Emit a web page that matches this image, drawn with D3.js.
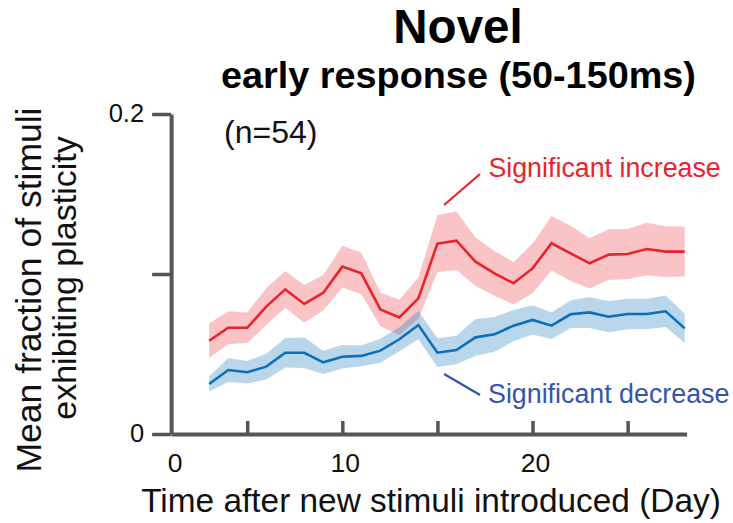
<!DOCTYPE html>
<html>
<head>
<meta charset="utf-8">
<script src="https://cdn.jsdelivr.net/npm/d3@7"></script>
<style>
  html, body { margin: 0; padding: 0; background: #fff; }
  svg { display: block; font-family: "Liberation Sans", Arial, Helvetica, sans-serif; }
</style>
</head>
<body>
<svg id="chart" width="733" height="523"></svg>
<script>
// Days since new stimuli were introduced
const days = [3, 4, 5, 6, 7, 8, 9, 10, 11, 12, 13, 14, 15, 16, 17, 18, 19, 20, 21, 22, 23, 24, 25, 26, 27, 28];

// Mean fraction of stimuli with a significant increase, and its SEM
const increaseMean = [0.0583, 0.0664, 0.0664, 0.0796, 0.0904, 0.0813, 0.0883, 0.1046, 0.1004, 0.0779, 0.0729, 0.0848, 0.1190,
                      0.1208, 0.1077, 0.1004, 0.0942, 0.1035, 0.1192, 0.1129, 0.1067, 0.1121, 0.1125, 0.1156, 0.1140, 0.1140];
const increaseSem  = [0.0108, 0.0103, 0.0096, 0.0115, 0.0115, 0.0118, 0.0110, 0.0130, 0.0130, 0.0106, 0.0110, 0.0130, 0.0178,
                      0.0183, 0.0151, 0.0140, 0.0132, 0.0156, 0.0170, 0.0172, 0.0157, 0.0159, 0.0156, 0.0164, 0.0159, 0.0155];

// Mean fraction of stimuli with a significant decrease, and its SEM
const decreaseMean = [0.0312, 0.0400, 0.0386, 0.0421, 0.0508, 0.0508, 0.0448, 0.0483, 0.0488, 0.0521, 0.0592, 0.0681, 0.0508,
                      0.0525, 0.0604, 0.0623, 0.0677, 0.0713, 0.0677, 0.0748, 0.0760, 0.0733, 0.0750, 0.0750, 0.0767, 0.0660];
const decreaseSem  = [0.0047, 0.0075, 0.0070, 0.0081, 0.0092, 0.0095, 0.0073, 0.0073, 0.0065, 0.0075, 0.0075, 0.0089, 0.0090,
                      0.0089, 0.0115, 0.0109, 0.0098, 0.0091, 0.0083, 0.0086, 0.0097, 0.0097, 0.0096, 0.0096, 0.0099, 0.0092];

// Axis ticks and labels
const xTickValues = [5, 10, 15, 20, 25];
const xTickLabels = [0, 10, 20];
const yTickValues = [0, 0.1, 0.2];
const yTickLabels = ["0", "", "0.2"];

const svg = d3.select("#chart");
const axisColor = "#555555";

// Scales: one step per day, y from 0 to 0.2
const x = d3.scaleLinear().domain([0, 28]).range([152.1, 684.7]);
const y = d3.scaleLinear().domain([0, 0.2]).range([434, 114]);

const xStart = 1, xEnd = 28.1;

const series = [
  { mean: increaseMean, sem: increaseSem, line: "#e8232b", band: "#ef3a44" },
  { mean: decreaseMean, sem: decreaseSem, line: "#0c6fb8", band: "#1877bd" }
];

const area = d3.area()
  .x(d => x(d.day))
  .y0(d => y(d.m - d.s))
  .y1(d => y(d.m + d.s));
const line = d3.line()
  .x(d => x(d.day))
  .y(d => y(d.m));

series.forEach(s => {
  s.points = days.map((day, i) => ({ day, m: s.mean[i], s: s.sem[i] }));
});

// Shaded SEM bands
svg.append("g").selectAll("path")
  .data(series)
  .join("path")
  .attr("d", s => area(s.points))
  .attr("fill", s => s.band)
  .attr("fill-opacity", 0.3)
  .attr("stroke", "none");

// Mean lines
svg.append("g").selectAll("path")
  .data(series)
  .join("path")
  .attr("d", s => line(s.points))
  .attr("fill", "none")
  .attr("stroke", s => s.line)
  .attr("stroke-width", 2.6)
  .attr("stroke-linejoin", "miter");

// Y axis (ticks pointing outward)
const yAxis = svg.append("g")
  .attr("transform", `translate(${x(xStart)},0)`)
  .call(d3.axisLeft(y)
    .tickValues(yTickValues)
    .tickSize(19)
    .tickSizeOuter(0)
    .tickPadding(8)
    .tickFormat((d, i) => yTickLabels[i]))
  .attr("font-family", null)
  .attr("font-size", 25.5);
yAxis.select(".domain").attr("stroke", axisColor).attr("stroke-width", 4);
yAxis.selectAll(".tick line").attr("stroke", axisColor).attr("stroke-width", 3.5);
yAxis.selectAll(".tick text")
  .attr("fill", "#111")
  .attr("dy", "0.3em");

// X axis (ticks pointing inward)
const xAxisScale = x.copy().domain([xStart, xEnd]).range([x(xStart), x(xEnd)]);
const xAxis = svg.append("g")
  .attr("transform", `translate(0,${y(0)})`)
  .call(d3.axisBottom(xAxisScale)
    .tickValues(xTickValues)
    .tickSize(-13)
    .tickSizeOuter(0)
    .tickFormat(""));
xAxis.select(".domain").attr("stroke", axisColor).attr("stroke-width", 4);
xAxis.selectAll(".tick line").attr("stroke", axisColor).attr("stroke-width", 3.5);

// X tick labels; the 0 label sits under the axis origin
svg.append("g").selectAll("text")
  .data(xTickLabels)
  .join("text")
  .attr("x", d => d === 0 ? x(xStart) + 4 : x(d) + 3)
  .attr("y", 471.5)
  .attr("text-anchor", "middle")
  .attr("font-size", 26.5)
  .attr("fill", "#111")
  .text(d => d);

// Titles
svg.append("text")
  .attr("x", 458).attr("y", 43)
  .attr("text-anchor", "middle")
  .attr("font-size", 47.5).attr("font-weight", "bold")
  .attr("fill", "#000")
  .text("Novel");
svg.append("text")
  .attr("x", 458.5).attr("y", 88)
  .attr("text-anchor", "middle")
  .attr("font-size", 37.8).attr("font-weight", "bold")
  .attr("fill", "#000")
  .text("early response (50-150ms)");

// Axis titles
svg.append("text")
  .attr("x", 431).attr("y", 511.5)
  .attr("text-anchor", "middle")
  .attr("font-size", 33.4)
  .attr("fill", "#111")
  .text("Time after new stimuli introduced (Day)");

svg.append("text")
  .attr("transform", "translate(41,290) rotate(-90)")
  .attr("text-anchor", "middle")
  .attr("font-size", 35.5)
  .attr("fill", "#111")
  .text("Mean fraction of stimuli");
svg.append("text")
  .attr("transform", "translate(76,278) rotate(-90)")
  .attr("text-anchor", "middle")
  .attr("font-size", 34)
  .attr("fill", "#111")
  .text("exhibiting plasticity");

// Sample size
svg.append("text")
  .attr("x", 224).attr("y", 143)
  .attr("font-size", 32)
  .attr("fill", "#111")
  .text("(n=54)");

// Series annotations with leader lines (data coordinates)
const notes = [
  { text: "Significant increase", color: "#e8232b", from: [15.35, 0.1431], to: [17.24, 0.1625], at: [17.68, 0.1606] },
  { text: "Significant decrease", color: "#3355ad", from: [15.35, 0.0375], to: [17.24, 0.0244], at: [17.66, 0.0194] }
];
const noteG = svg.append("g");
noteG.selectAll("line")
  .data(notes)
  .join("line")
  .attr("x1", d => x(d.from[0])).attr("y1", d => y(d.from[1]))
  .attr("x2", d => x(d.to[0])).attr("y2", d => y(d.to[1]))
  .attr("stroke", d => d.color)
  .attr("stroke-width", 2.2);
noteG.selectAll("text")
  .data(notes)
  .join("text")
  .attr("x", d => x(d.at[0])).attr("y", d => y(d.at[1]))
  .attr("font-size", 26.8)
  .attr("fill", d => d.color)
  .text(d => d.text);
</script>
</body>
</html>
